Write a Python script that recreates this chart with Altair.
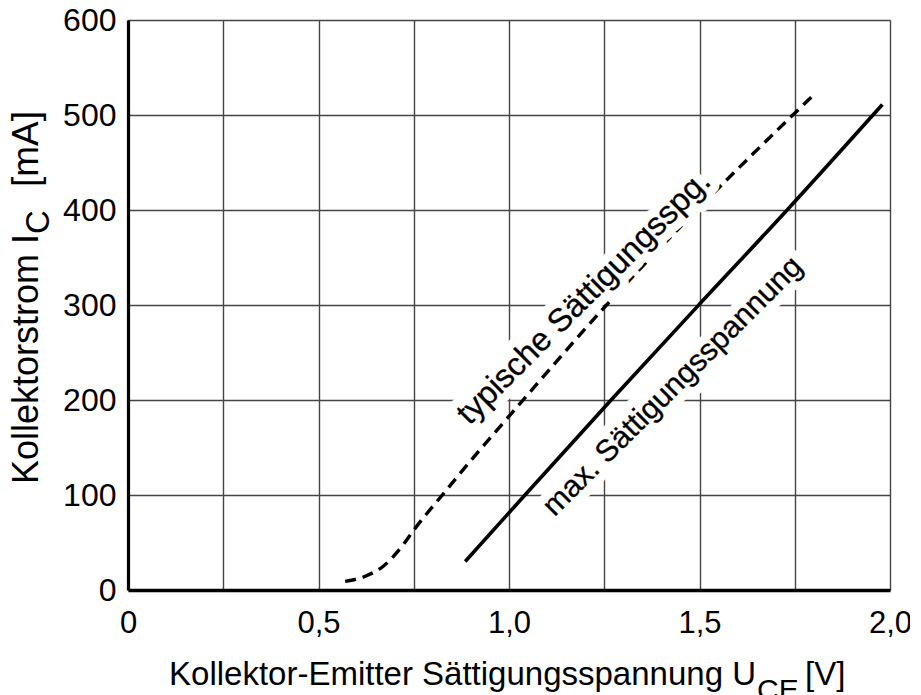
import altair as alt
import pandas as pd

# ---- data ----
x_ticks = [0, 0.25, 0.5, 0.75, 1.0, 1.25, 1.5, 1.75, 2.0]
x_tick_labels = ["0", "", "0,5", "", "1,0", "", "1,5", "", "2,0"]
y_ticks = [0, 100, 200, 300, 400, 500, 600]
y_tick_labels = ["0", "100", "200", "300", "400", "500", "600"]

# typical saturation voltage (dashed)
typ_u = [0.57, 0.626, 0.67, 0.723, 0.75, 0.827, 0.866, 1.037, 1.256, 1.493, 1.794]
typ_i = [9, 15, 25, 48, 63, 101, 120, 200, 300, 400, 519]

# maximum saturation voltage (solid)
max_u = [0.885, 1.042, 1.268, 1.498, 1.73, 1.98]
max_i = [30, 100, 200, 300, 400, 511]

label_texts = ["typische Sättigungsspg.", "max. Sättigungsspannung"]
label_u = [1.215, 1.447]
label_i = [300.5, 207.5]
label_size = [32.5, 30.5]

FONT = "Liberation Sans, Arial, Helvetica, sans-serif"

df_typ = pd.DataFrame({"u": typ_u, "i": typ_i})
df_max = pd.DataFrame({"u": max_u, "i": max_i})
df_lab = pd.DataFrame({"t": label_texts, "u": label_u, "i": label_i, "fs": label_size})


def label_expr(values, labels):
    parts = [f"datum.value == {v} ? '{l}'" for v, l in zip(values, labels)]
    return " : ".join(parts) + " : ''"


x_scale = alt.Scale(domain=[0, 2], nice=False, zero=False)
y_scale = alt.Scale(domain=[0, 600], nice=False)

x_axis = alt.Axis(
    values=x_ticks, labelExpr=label_expr(x_ticks, x_tick_labels), title=None,
    grid=True, gridColor="#454545", gridWidth=1.4, ticks=False,
    domainColor="black", domainWidth=3.5, labelFont=FONT, labelFontSize=31,
    labelColor="black", labelPadding=18, labelFlush=False, labelOverlap=False,
)
y_axis = alt.Axis(
    values=y_ticks, labelExpr=label_expr(y_ticks, y_tick_labels), title=None,
    grid=True, gridColor="#454545", gridWidth=1.4, ticks=False,
    domainColor="black", domainWidth=3.2, labelFont=FONT, labelFontSize=32,
    labelColor="black", labelPadding=12, labelFlush=False, labelOverlap=False,
)

base_typ = alt.Chart(df_typ).mark_line(
    color="black", strokeWidth=3.4, strokeDash=[11, 7], interpolate="monotone"
).encode(
    x=alt.X("u:Q", scale=x_scale, axis=x_axis),
    y=alt.Y("i:Q", scale=y_scale, axis=y_axis),
)

line_max = alt.Chart(df_max).mark_line(
    color="black", strokeWidth=3.6, interpolate="monotone"
).encode(x=alt.X("u:Q"), y=alt.Y("i:Q"))

halo = alt.Chart(df_lab).mark_text(
    angle=315, align="center", baseline="alphabetic", font=FONT,
    fill="white", stroke="white", strokeWidth=18, strokeJoin="round"
).encode(x="u:Q", y="i:Q", text="t:N", size=alt.Size("fs:Q", scale=None, legend=None))

labels = alt.Chart(df_lab).mark_text(
    angle=315, align="center", baseline="alphabetic", font=FONT, color="black",
    stroke="black", strokeWidth=0.3
).encode(x="u:Q", y="i:Q", text="t:N", size=alt.Size("fs:Q", scale=None, legend=None))


def piece(text, px, py, size, align="left", angle=0):
    return alt.Chart(pd.DataFrame({"t": [text]})).mark_text(
        align=align, baseline="alphabetic", font=FONT, fontSize=size,
        color="black", angle=angle
    ).encode(x=alt.value(px), y=alt.value(py), text="t:N")


# x axis title with subscript
xt1 = piece("Kollektor-Emitter Sättigungsspannung U", 628, 665, 33, align="right")
xt2 = piece("CE", 629, 680, 30, align="left")
xt3 = piece("[V]", 677, 665, 33, align="left")

# y axis title with subscript (rotated)
yt1 = piece("Kollektorstrom I", -90, 214, 36, align="right", angle=270)
yt2 = piece("C", -79, 214, 33, align="left", angle=270)
yt3 = piece("[mA]", -90, 167, 37, align="left", angle=270)

chart = alt.layer(
    base_typ, halo, line_max, labels, xt1, xt2, xt3, yt1, yt2, yt3
).properties(
    width=762, height=570,
    autosize=alt.AutoSizeParams(type="none"),
    padding={"left": 120, "top": 12, "right": 20, "bottom": 105},
).configure_view(stroke=None).configure(background="white")

chart.save("out.html", embed_options={"renderer": "svg", "actions": False})
